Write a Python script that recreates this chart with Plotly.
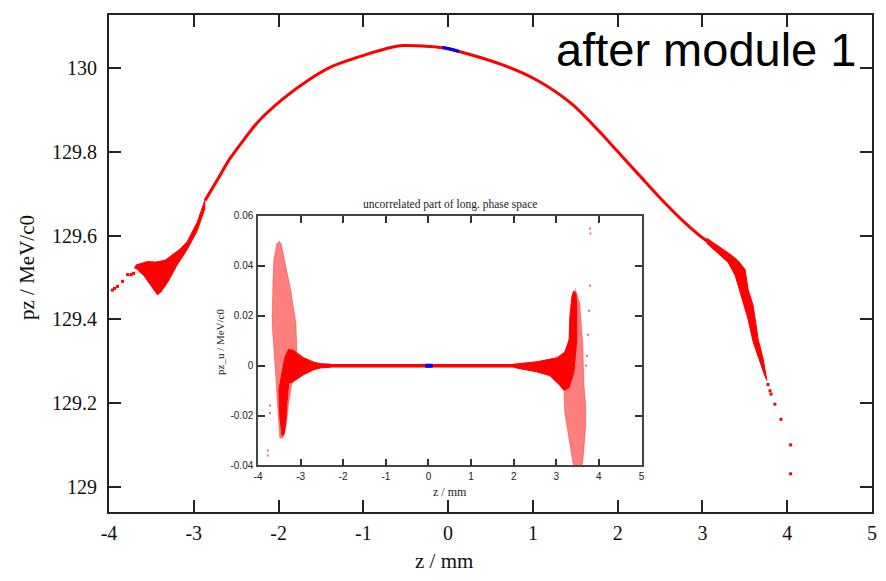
import plotly.graph_objects as go

# ---------------- main plot data ----------------
main_z = [-2.866, -2.725, -2.572, -2.408, -2.243, -1.949, -1.632, -1.362, -0.962, -0.692, -0.539,
          -0.222, -0.069, 0.13, 0.683, 1.070, 1.458, 1.776, 2.011, 2.246, 2.481, 2.798, 3.033, 3.221]
main_pz = [129.684, 129.732, 129.784, 129.829, 129.871, 129.926, 129.973, 130.004, 130.032, 130.048, 130.053,
           130.051, 130.048, 130.039, 130.004, 129.968, 129.914, 129.850, 129.798, 129.746, 129.694, 129.630, 129.590, 129.566]

main_blue_z = [-0.069, 0.03, 0.13]
main_blue_pz = [130.049, 130.045, 130.039]

main_left_blob_z = [-3.70, -3.68, -3.55, -3.45, -3.34, -3.16, -3.08, -2.96, -2.87,
                    -2.87, -2.96, -3.08, -3.20, -3.31, -3.39, -3.43, -3.45, -3.51, -3.59, -3.66]
main_left_blob_pz = [129.522, 129.530, 129.538, 129.537, 129.541, 129.568, 129.585, 129.632, 129.684,
                     129.664, 129.611, 129.566, 129.529, 129.488, 129.465, 129.459, 129.465, 129.481, 129.505, 129.518]

main_right_blob_z = [3.05, 3.15, 3.221, 3.339, 3.421, 3.503, 3.538, 3.597, 3.632, 3.656, 3.715, 3.750, 3.76,
                     3.738, 3.679, 3.597, 3.538, 3.456, 3.386, 3.303, 3.150, 3.05]
main_right_blob_pz = [129.594, 129.580, 129.571, 129.554, 129.540, 129.519, 129.472, 129.434, 129.387, 129.354, 129.307, 129.269, 129.255,
                      129.264, 129.299, 129.347, 129.401, 129.458, 129.505, 129.536, 129.564, 129.582]

main_dots_z = [-3.96, -3.935, -3.90, -3.84, -3.78, -3.74, -3.71,
               3.773, 3.797, 3.809, 3.855, 3.926, 4.04, 4.04]
main_dots_pz = [129.470, 129.474, 129.479, 129.491, 129.507, 129.507, 129.510,
                129.245, 129.230, 129.222, 129.198, 129.162, 129.101, 129.032]

main_xticks = [-4, -3, -2, -1, 0, 1, 2, 3, 4, 5]
main_xticklabels = ["-4", "-3", "-2", "-1", "0", "1", "2", "3", "4", "5"]
main_yticks = [129, 129.2, 129.4, 129.6, 129.8, 130]
main_yticklabels = ["129", "129.2", "129.4", "129.6", "129.8", "130"]

# ---------------- inset data ----------------
inset_band_z = [-2.4, 2.1]
inset_band_pz = [0.0, 0.0]

inset_blue_z = [-0.08, 0.10]
inset_blue_pz = [0.0, 0.0]

inset_left_dense_z = [-2.3, -2.53, -2.69, -2.93, -3.16, -3.28, -3.37, -3.44, -3.51, -3.49, -3.44,
                      -3.39, -3.35, -3.32, -3.28, -3.21, -2.93, -2.69, -2.53, -2.3]
inset_left_dense_pz = [0.0006, 0.0008, 0.0014, 0.0032, 0.0060, 0.0066, 0.0034, -0.0028, -0.0096, -0.0200, -0.0280,
                       -0.0276, -0.0228, -0.0148, -0.0068, -0.0068, -0.0036, -0.0016, -0.0009, -0.0006]

inset_left_sparse_z = [-3.51, -3.46, -3.23, -3.11, -3.09, -3.21, -3.28, -3.35, -3.42,
                       -3.49, -3.53, -3.56, -3.60, -3.67, -3.65, -3.63, -3.56]
inset_left_sparse_pz = [0.050, 0.049, 0.030, 0.017, 0.0064, -0.0068, -0.015, -0.025, -0.029,
                        -0.029, -0.020, -0.011, 0.0, 0.017, 0.033, 0.042, 0.049]

inset_right_dense_z = [2.0, 2.55, 3.02, 3.20, 3.30, 3.32, 3.37, 3.41, 3.46, 3.48, 3.48, 3.41,
                       3.30, 3.18, 3.09, 2.85, 2.55, 2.0]
inset_right_dense_pz = [0.0006, 0.0016, 0.0032, 0.0055, 0.0104, 0.020, 0.028, 0.030, 0.029, 0.024, 0.0104, -0.0028,
                        -0.0088, -0.010, -0.008, -0.0040, -0.0025, -0.0007]

inset_right_sparse_z = [3.44, 3.55, 3.62, 3.65, 3.69, 3.69, 3.64, 3.60, 3.41, 3.30, 3.20, 3.18, 3.41, 3.48]
inset_right_sparse_pz = [0.031, 0.025, 0.009, -0.008, -0.016, -0.024, -0.035, -0.041, -0.041, -0.030, -0.019, -0.011, -0.003, 0.024]

inset_dots_z = [-3.77, -3.77, -3.72, -3.72, 3.79, 3.80, 3.79, 3.77, 3.74, 3.72, 3.70]
inset_dots_pz = [-0.034, -0.036, -0.016, -0.019, 0.055, 0.053, 0.032, 0.022, 0.0124, 0.004, 0.0]

inset_xticks = [-4, -3, -2, -1, 0, 1, 2, 3, 4, 5]
inset_xticklabels = ["-4", "-3", "-2", "-1", "0", "1", "2", "3", "4", "5"]
inset_yticks = [-0.04, -0.02, 0, 0.02, 0.04, 0.06]
inset_yticklabels = ["-0.04", "-0.02", "0", "0.02", "0.04", "0.06"]

RED = "#ff0000"
BLUE = "#0000ff"
SPARSE = "rgba(255,0,0,0.5)"

# plot-area geometry in pixels (for placing annotations)
PL, PR, PT, PB = 109, 877, 10, 512
PW, PH = PR - PL, PB - PT


def px(xp):
    return (xp - PL) / PW


def py(yp):
    return (PB - yp) / PH


fig = go.Figure()

# main plot traces
fig.add_trace(go.Scatter(x=main_left_blob_z, y=main_left_blob_pz, mode="lines", fill="toself",
                         fillcolor=RED, line=dict(color=RED, width=1), xaxis="x", yaxis="y"))
fig.add_trace(go.Scatter(x=main_right_blob_z, y=main_right_blob_pz, mode="lines", fill="toself",
                         fillcolor=RED, line=dict(color=RED, width=1), xaxis="x", yaxis="y"))
fig.add_trace(go.Scatter(x=main_z, y=main_pz, mode="lines",
                         line=dict(color=RED, width=3, shape="spline", smoothing=0.8),
                         xaxis="x", yaxis="y"))
fig.add_trace(go.Scatter(x=main_blue_z, y=main_blue_pz, mode="lines", line=dict(color=BLUE, width=3),
                         xaxis="x", yaxis="y"))
fig.add_trace(go.Scatter(x=main_dots_z, y=main_dots_pz, mode="markers",
                         marker=dict(color=RED, size=3, symbol="square", line=dict(width=0)),
                         xaxis="x", yaxis="y"))

# inset traces
fig.add_trace(go.Scatter(x=inset_left_sparse_z, y=inset_left_sparse_pz, mode="lines", fill="toself",
                         fillcolor=SPARSE, line=dict(color="rgba(255,0,0,0.35)", width=1), xaxis="x2", yaxis="y2"))
fig.add_trace(go.Scatter(x=inset_right_sparse_z, y=inset_right_sparse_pz, mode="lines", fill="toself",
                         fillcolor=SPARSE, line=dict(color="rgba(255,0,0,0.35)", width=1), xaxis="x2", yaxis="y2"))
fig.add_trace(go.Scatter(x=inset_left_dense_z, y=inset_left_dense_pz, mode="lines", fill="toself",
                         fillcolor=RED, line=dict(color=RED, width=1), xaxis="x2", yaxis="y2"))
fig.add_trace(go.Scatter(x=inset_right_dense_z, y=inset_right_dense_pz, mode="lines", fill="toself",
                         fillcolor=RED, line=dict(color=RED, width=1), xaxis="x2", yaxis="y2"))
fig.add_trace(go.Scatter(x=inset_band_z, y=inset_band_pz, mode="lines", line=dict(color=RED, width=3.5),
                         xaxis="x2", yaxis="y2"))
fig.add_trace(go.Scatter(x=inset_blue_z, y=inset_blue_pz, mode="lines", line=dict(color=BLUE, width=4),
                         xaxis="x2", yaxis="y2"))
fig.add_trace(go.Scatter(x=inset_dots_z, y=inset_dots_pz, mode="markers",
                         marker=dict(color="rgba(255,0,0,0.6)", size=2, symbol="square", line=dict(width=0)),
                         xaxis="x2", yaxis="y2"))

serif = "Liberation Serif, Times New Roman, serif"
sans = "Liberation Sans, Arial, sans-serif"

fig.update_layout(
    width=886, height=581,
    margin=dict(l=PL, r=886 - PR, t=PT, b=581 - PB),
    paper_bgcolor="white", plot_bgcolor="white",
    showlegend=False,
    xaxis=dict(domain=[0, 1], range=[-4, 5], tickvals=main_xticks, ticktext=main_xticklabels,
               ticks="inside", ticklen=12, tickwidth=2, tickcolor="#222",
               showline=True, linecolor="#222", linewidth=2, mirror="ticks",
               showgrid=False, zeroline=False, ticklabelstandoff=2,
               tickfont=dict(family=serif, size=20, color="#111")),
    yaxis=dict(domain=[0, 1], range=[128.941, 130.126], tickvals=main_yticks, ticktext=main_yticklabels,
               ticks="inside", ticklen=12, tickwidth=2, tickcolor="#222",
               showline=True, linecolor="#222", linewidth=2, mirror="ticks",
               showgrid=False, zeroline=False, ticklabelstandoff=6,
               tickfont=dict(family=serif, size=20, color="#111")),
    xaxis2=dict(domain=[px(259), px(645)], anchor="y2", range=[-4, 5],
                tickvals=inset_xticks, ticktext=inset_xticklabels,
                ticks="inside", ticklen=7, tickwidth=1.5, tickcolor="#333",
                showline=True, linecolor="#444", linewidth=1.5, mirror="ticks",
                showgrid=False, zeroline=False, ticklabelstandoff=1,
                tickfont=dict(family=sans, size=10, color="#222")),
    yaxis2=dict(domain=[py(465), py(213)], anchor="x2", range=[-0.04, 0.06],
                tickvals=inset_yticks, ticktext=inset_yticklabels,
                ticks="inside", ticklen=7, tickwidth=1.5, tickcolor="#333",
                showline=True, linecolor="#444", linewidth=1.5, mirror="ticks",
                showgrid=False, zeroline=False, ticklabelstandoff=1,
                tickfont=dict(family=sans, size=10, color="#222")),
    annotations=[
        dict(text="after module 1", xref="paper", yref="paper", x=px(863), y=py(45),
             xanchor="right", yanchor="middle", showarrow=False,
             font=dict(family=sans, size=47, color="#000")),
        dict(text="z / mm", xref="paper", yref="paper", x=px(446), y=py(561),
             xanchor="center", yanchor="middle", showarrow=False,
             font=dict(family=serif, size=21, color="#111")),
        dict(text="pz / MeV/c0", xref="paper", yref="paper", x=px(27), y=py(265),
             xanchor="center", yanchor="middle", showarrow=False, textangle=-90,
             font=dict(family=serif, size=21, color="#111")),
        dict(text="uncorrelated part of long. phase space", xref="paper", yref="paper",
             x=px(452), y=py(201), xanchor="center", yanchor="middle",
             showarrow=False, font=dict(family=serif, size=11.5, color="#222")),
        dict(text="z / mm", xref="paper", yref="paper",
             x=px(452), y=py(492), xanchor="center", yanchor="middle",
             showarrow=False, font=dict(family=serif, size=12, color="#222")),
        dict(text="pz_u / MeV/c0", xref="paper", yref="paper",
             x=px(220), y=py(340), xanchor="center", yanchor="middle",
             showarrow=False, textangle=-90, font=dict(family=serif, size=11, color="#222")),
    ],
)

fig.write_html("out.html")
